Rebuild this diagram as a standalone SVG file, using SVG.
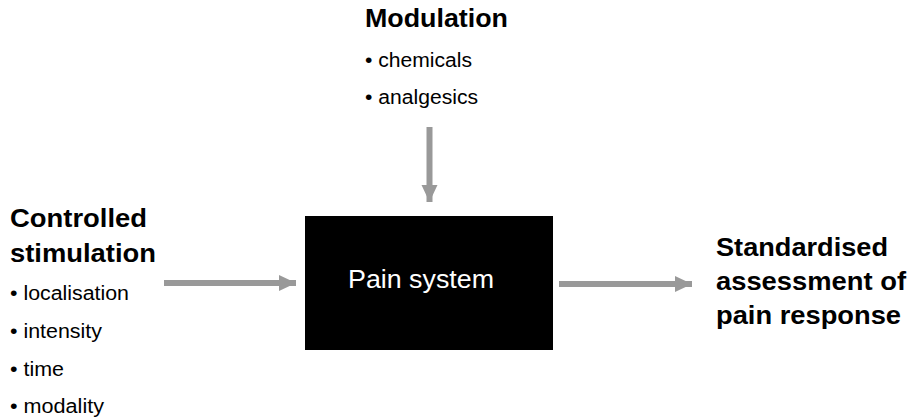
<svg xmlns="http://www.w3.org/2000/svg" width="910" height="419" viewBox="0 0 910 419">
<style>
.h{font-family:"Liberation Sans",Arial,sans-serif;font-weight:bold;font-size:26px;fill:#000}
.b{font-family:"Liberation Sans",Arial,sans-serif;font-size:20px;fill:#000}
.c{stroke:#999;stroke-width:6;fill:none}
</style>
<defs>
<marker id="ah" markerUnits="userSpaceOnUse" markerWidth="18" markerHeight="18" refX="17" refY="8" orient="auto" viewBox="0 0 18 16">
<path d="M0,0 L17,8 L0,16 Z" fill="#999"/>
</marker>
</defs>
<rect width="910" height="419" fill="#fff"/>
<g id="connectors">
<line class="c" x1="164" y1="283" x2="296" y2="283" marker-end="url(#ah)"/>
<line class="c" x1="429.5" y1="127" x2="429.5" y2="202" marker-end="url(#ah)"/>
<line class="c" x1="559" y1="284" x2="692" y2="284" marker-end="url(#ah)"/>
</g>
<g id="pain-system">
<rect x="305" y="216" width="248" height="134" fill="#000"/>
<text x="348" y="288" textLength="146" lengthAdjust="spacingAndGlyphs" font-family="Liberation Sans,Arial,sans-serif" font-size="25" fill="#fff">Pain system</text>
</g>
<g id="modulation">
<text class="h" x="365" y="27" textLength="143" lengthAdjust="spacingAndGlyphs">Modulation</text>
<text class="b" x="365" y="67" textLength="107" lengthAdjust="spacingAndGlyphs">• chemicals</text>
<text class="b" x="365" y="104" textLength="113" lengthAdjust="spacingAndGlyphs">• analgesics</text>
</g>
<g id="controlled-stimulation">
<text class="h" x="10" y="227" textLength="137" lengthAdjust="spacingAndGlyphs">Controlled</text>
<text class="h" x="10" y="262" textLength="146" lengthAdjust="spacingAndGlyphs">stimulation</text>
<text class="b" x="10" y="300" textLength="119" lengthAdjust="spacingAndGlyphs">• localisation</text>
<text class="b" x="10" y="338" textLength="92" lengthAdjust="spacingAndGlyphs">• intensity</text>
<text class="b" x="10" y="376" textLength="54" lengthAdjust="spacingAndGlyphs">• time</text>
<text class="b" x="10" y="413" textLength="94" lengthAdjust="spacingAndGlyphs">• modality</text>
</g>
<g id="assessment">
<text class="h" x="716" y="256" textLength="172" lengthAdjust="spacingAndGlyphs">Standardised</text>
<text class="h" x="716" y="290" textLength="190" lengthAdjust="spacingAndGlyphs">assessment of</text>
<text class="h" x="716" y="324" textLength="185" lengthAdjust="spacingAndGlyphs">pain response</text>
</g>
</svg>
